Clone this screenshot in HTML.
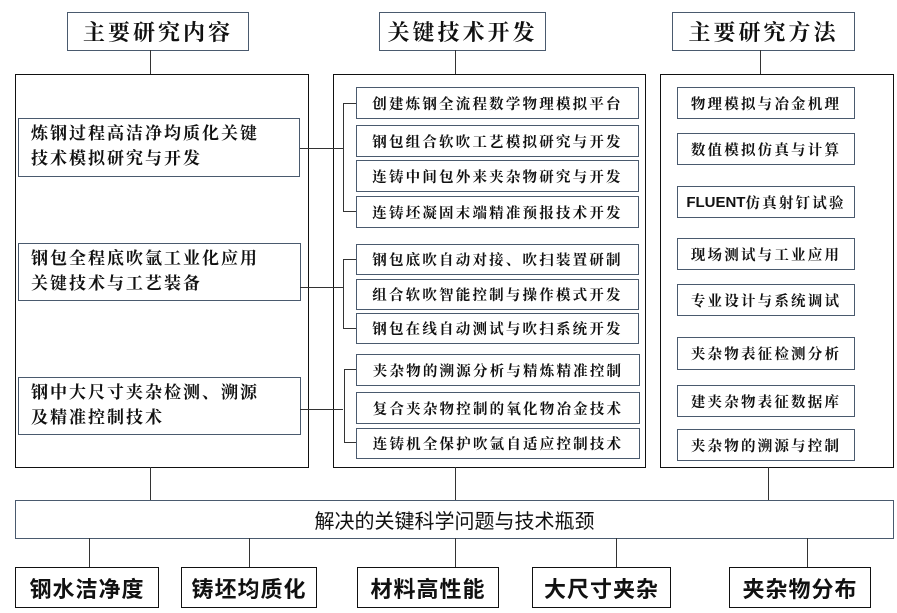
<!DOCTYPE html>
<html><head><meta charset="utf-8"><style>
body{margin:0;width:897px;height:613px;background:#fff;position:relative;overflow:hidden;font-family:"Liberation Serif","Noto Serif CJK SC",serif;color:#111}
.b{position:absolute;box-sizing:border-box;border:1.5px solid #4a5a6e;background:#fff}
.k{position:absolute;box-sizing:border-box;border:1.5px solid #111}
.h{font-size:22px;letter-spacing:3px;display:flex;align-items:center;justify-content:center;font-weight:bold}
.m{font-size:14.5px;letter-spacing:2.2px;display:flex;align-items:center;justify-content:center;font-weight:bold;white-space:nowrap}
.l{font-size:17px;letter-spacing:2px;line-height:25px;padding:2px 0 0 12px;font-weight:bold}
.f{font-size:22px;display:flex;align-items:center;justify-content:center;font-family:"Liberation Sans","Noto Sans CJK SC",sans-serif;font-weight:bold;letter-spacing:1px}
.v{position:absolute;width:1.3px;background:#333}
.o{position:absolute;height:1.3px;background:#333}
</style></head><body>
<div class="b h" style="left:67px;top:12px;width:182px;height:39px">主要研究内容</div>
<div class="b h" style="left:379px;top:12px;width:167px;height:39px">关键技术开发</div>
<div class="b h" style="left:672px;top:12px;width:183px;height:39px">主要研究方法</div>
<div class="v" style="left:150px;top:50px;height:25px"></div>
<div class="v" style="left:455px;top:50px;height:25px"></div>
<div class="v" style="left:760px;top:50px;height:25px"></div>
<div class="k" style="left:15px;top:74px;width:294px;height:394px"></div>
<div class="k" style="left:333px;top:74px;width:313px;height:394px"></div>
<div class="k" style="left:660px;top:74px;width:234px;height:394px"></div>

<div class="b l" style="left:18px;top:118px;width:282px;height:59px">炼钢过程高洁净均质化关键<br>技术模拟研究与开发</div>
<div class="b l" style="left:18px;top:243px;width:283px;height:58px">钢包全程底吹氩工业化应用<br>关键技术与工艺装备</div>
<div class="b l" style="left:18px;top:377px;width:283px;height:58px">钢中大尺寸夹杂检测、溯源<br>及精准控制技术</div>

<div class="o" style="left:300px;top:148px;width:43px"></div>
<div class="v" style="left:343px;top:103px;height:109px"></div>
<div class="o" style="left:343px;top:103px;width:13px"></div>
<div class="o" style="left:343px;top:211px;width:13px"></div>
<div class="o" style="left:300px;top:287px;width:43px"></div>
<div class="v" style="left:343px;top:259px;height:70px"></div>
<div class="o" style="left:343px;top:259px;width:13px"></div>
<div class="o" style="left:343px;top:328px;width:13px"></div>
<div class="o" style="left:300px;top:409px;width:43px"></div>
<div class="v" style="left:344px;top:369px;height:74px"></div>
<div class="o" style="left:344px;top:369px;width:12px"></div>
<div class="o" style="left:344px;top:442px;width:12px"></div>

<div class="b m" style="left:356px;top:87px;width:283px;height:32px">创建炼钢全流程数学物理模拟平台</div>
<div class="b m" style="left:356px;top:125px;width:283px;height:32px">钢包组合软吹工艺模拟研究与开发</div>
<div class="b m" style="left:356px;top:160px;width:283px;height:32px">连铸中间包外来夹杂物研究与开发</div>
<div class="b m" style="left:356px;top:196px;width:283px;height:32px">连铸坯凝固末端精准预报技术开发</div>
<div class="b m" style="left:356px;top:244px;width:283px;height:31px">钢包底吹自动对接、吹扫装置研制</div>
<div class="b m" style="left:356px;top:279px;width:283px;height:31px">组合软吹智能控制与操作模式开发</div>
<div class="b m" style="left:356px;top:313px;width:283px;height:31px">钢包在线自动测试与吹扫系统开发</div>
<div class="b m" style="left:356px;top:354px;width:284px;height:32px">夹杂物的溯源分析与精炼精准控制</div>
<div class="b m" style="left:356px;top:392px;width:284px;height:32px">复合夹杂物控制的氧化物冶金技术</div>
<div class="b m" style="left:356px;top:428px;width:284px;height:31px">连铸机全保护吹氩自适应控制技术</div>

<div class="b m" style="left:677px;top:87px;width:178px;height:32px">物理模拟与冶金机理</div>
<div class="b m" style="left:677px;top:133px;width:178px;height:32px">数值模拟仿真与计算</div>
<div class="b m" style="left:677px;top:186px;width:178px;height:32px"><span style="font-family:'Liberation Sans',sans-serif;letter-spacing:0;font-size:15px">FLUENT</span>仿真射钉试验</div>
<div class="b m" style="left:677px;top:238px;width:178px;height:32px">现场测试与工业应用</div>
<div class="b m" style="left:677px;top:284px;width:178px;height:32px">专业设计与系统调试</div>
<div class="b m" style="left:677px;top:337px;width:178px;height:33px">夹杂物表征检测分析</div>
<div class="b m" style="left:677px;top:385px;width:178px;height:32px">建夹杂物表征数据库</div>
<div class="b m" style="left:677px;top:429px;width:178px;height:32px">夹杂物的溯源与控制</div>

<div class="v" style="left:150px;top:467px;height:33px"></div>
<div class="v" style="left:455px;top:467px;height:33px"></div>
<div class="v" style="left:768px;top:467px;height:33px"></div>
<div class="b f" style="left:15px;top:500px;width:879px;height:39px;font-size:20px;font-weight:normal;letter-spacing:0">解决的关键科学问题与技术瓶颈</div>
<div class="v" style="left:89px;top:538px;height:30px"></div>
<div class="v" style="left:249px;top:538px;height:30px"></div>
<div class="v" style="left:455px;top:538px;height:30px"></div>
<div class="v" style="left:616px;top:538px;height:30px"></div>
<div class="v" style="left:807px;top:538px;height:30px"></div>
<div class="k f" style="left:15px;top:567px;width:144px;height:41px">钢水洁净度</div>
<div class="k f" style="left:181px;top:567px;width:136px;height:41px">铸坯均质化</div>
<div class="k f" style="left:357px;top:567px;width:142px;height:41px">材料高性能</div>
<div class="k f" style="left:532px;top:567px;width:139px;height:41px">大尺寸夹杂</div>
<div class="k f" style="left:729px;top:567px;width:142px;height:41px">夹杂物分布</div>
</body></html>
